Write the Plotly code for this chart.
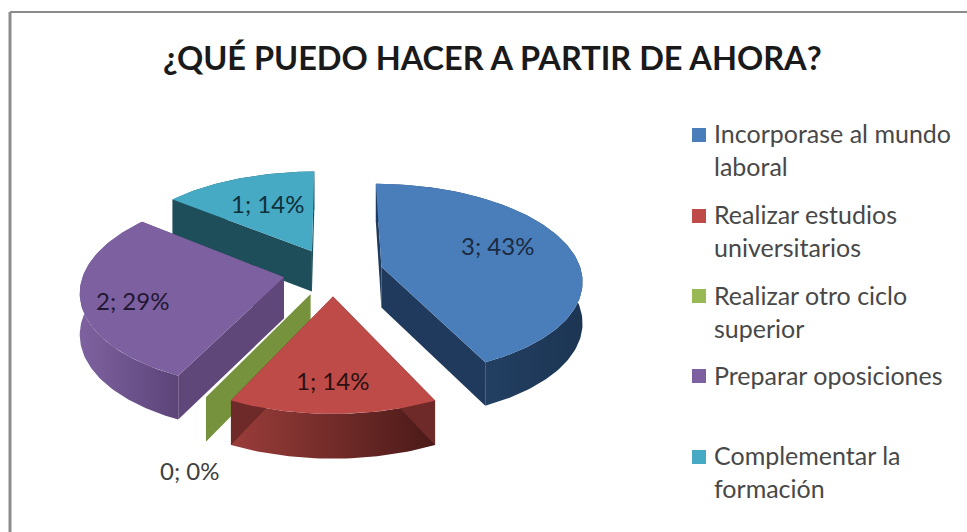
import math
import plotly.graph_objects as go

# ---- data ----
categories = ["Incorporase al mundo laboral", "Realizar estudios universitarios",
              "Realizar otro ciclo superior", "Preparar oposiciones", "Complementar la formación"]
legend_labels = ["Incorporase al mundo<br>laboral", "Realizar estudios<br>universitarios",
                 "Realizar otro ciclo<br>superior", "Preparar oposiciones",
                 "Complementar la<br>formación"]
values = [3, 1, 0, 2, 1]
title_text = "¿QUÉ PUEDO HACER A PARTIR DE AHORA?"

# ---- style ----
top_colors = ["#4A7EBB", "#BE4B48", "#98B954", "#7D60A0", "#46AAC4"]
legend_colors = ["#4A7EBB", "#BE4B48", "#98B954", "#7D60A0", "#46AAC4"]
radial_colors = ["#1F3A5C", "#6E2A28", "#76923C", "#5F4879", "#1F4E5B"]
arc_grad = [("#2A4A72", "#1C3553"), ("#9A3D3A", "#4A1A18"), ("#76923C", "#76923C"),
            ("#7E62A0", "#5C4478"), ("#215868", "#215868")]
draw_order = [4, 0, 2, 3, 1]
label_pos = [(497, 245), (332, 380), (190, 470), (132, 300), (267, 203)]
label_colors = ["#1B2A40", "#2A1010", "#404040", "#231832", "#10303A"]
legend_marker_y = [135, 216, 296, 376, 457]
legend_text_y = [149, 230, 311, 375, 471]

X0, Y0, R, RT, K, EXPLODE, H = 333, 272, 200, 95, 0.13, 0.25, 41


def scale(v):
    return 1 / (1 + K * v)


def project(u, v, down=False):
    s = scale(v)
    return X0 + R * u * s, Y0 - RT * v * s + (H * s ** 0.5 if down else 0)


total = sum(values)
pcts = [round(100 * v / total) for v in values]
fig = go.Figure()


def poly(xs, ys, color=None, grad=None):
    kw = dict(x=xs, y=ys, mode="lines", fill="toself", line=dict(width=0),
              hoverinfo="skip", showlegend=False)
    if grad:
        kw["fillgradient"] = dict(type="horizontal", colorscale=[[0, grad[0]], [1, grad[1]]])
        kw["fillcolor"] = grad[0]
    else:
        kw["fillcolor"] = color
    fig.add_trace(go.Scatter(**kw))


starts, cum = [], 0
for v in values:
    starts.append(cum / total * 2 * math.pi)
    cum += v

for i in draw_order:
    a0 = starts[i]
    a1 = a0 + values[i] / total * 2 * math.pi
    mid = (a0 + a1) / 2
    cu, cv = EXPLODE * math.sin(mid), EXPLODE * math.cos(mid)
    n = max(2, int(values[i] * 40) + 2)
    rim = [(cu + math.sin(a0 + (a1 - a0) * k / (n - 1)), cv + math.cos(a0 + (a1 - a0) * k / (n - 1)))
           for k in range(n)]
    top = [project(*p) for p in rim]
    bot = [project(*p, down=True) for p in rim]
    ax, ay = project(cu, cv)
    bx, by = project(cu, cv, down=True)
    if values[i] == 0:
        # zero-size slice: only the flat wall shows
        poly([ax, top[0][0], bot[0][0], bx], [ay, top[0][1], bot[0][1], by], color=radial_colors[i])
        continue
    # outer wall
    xs = [p[0] for p in top] + [p[0] for p in reversed(bot)]
    ys = [p[1] for p in top] + [p[1] for p in reversed(bot)]
    poly(xs, ys, grad=arc_grad[i])
    # radial walls
    for p, q in ((top[0], bot[0]), (top[-1], bot[-1])):
        poly([ax, p[0], q[0], bx], [ay, p[1], q[1], by], color=radial_colors[i])
    # top face
    poly([ax] + [p[0] for p in top], [ay] + [p[1] for p in top], color=top_colors[i])

# legend markers
fig.add_trace(go.Scatter(x=[699] * len(categories), y=legend_marker_y, mode="markers",
                         marker=dict(symbol="square", size=14, color=legend_colors),
                         text=categories, hoverinfo="text", showlegend=False))

ann = []
for i, (v, p) in enumerate(zip(values, pcts)):
    ann.append(dict(x=label_pos[i][0], y=label_pos[i][1], text=f"{v}; {p}%", showarrow=False,
                    font=dict(family="Lato", size=24, color=label_colors[i])))
for i, t in enumerate(legend_labels):
    ann.append(dict(x=712, y=legend_text_y[i], text=t, showarrow=False, xanchor="left", align="left",
                    font=dict(family="Lato", size=25, color="#484848")))
ann.append(dict(x=492, y=57, text=f"<b>{title_text}</b>", showarrow=False,
                font=dict(family="Lato", size=32.5, color="#1A1A1A")))

fig.update_layout(
    width=967, height=532, margin=dict(l=0, r=0, t=0, b=0),
    paper_bgcolor="white", plot_bgcolor="white", showlegend=False,
    xaxis=dict(range=[0, 967], visible=False, fixedrange=True),
    yaxis=dict(range=[532, 0], visible=False, fixedrange=True),
    annotations=ann,
    shapes=[
        dict(type="line", x0=10, x1=967, y0=12, y1=12, line=dict(color="#8C8C8C", width=2)),
        dict(type="line", x0=10, x1=10, y0=12, y1=532, line=dict(color="#8C8C8C", width=3)),
    ],
)
fig.write_html("out.html", post_script="document.body.style.margin='0';", config={"displayModeBar": False})
